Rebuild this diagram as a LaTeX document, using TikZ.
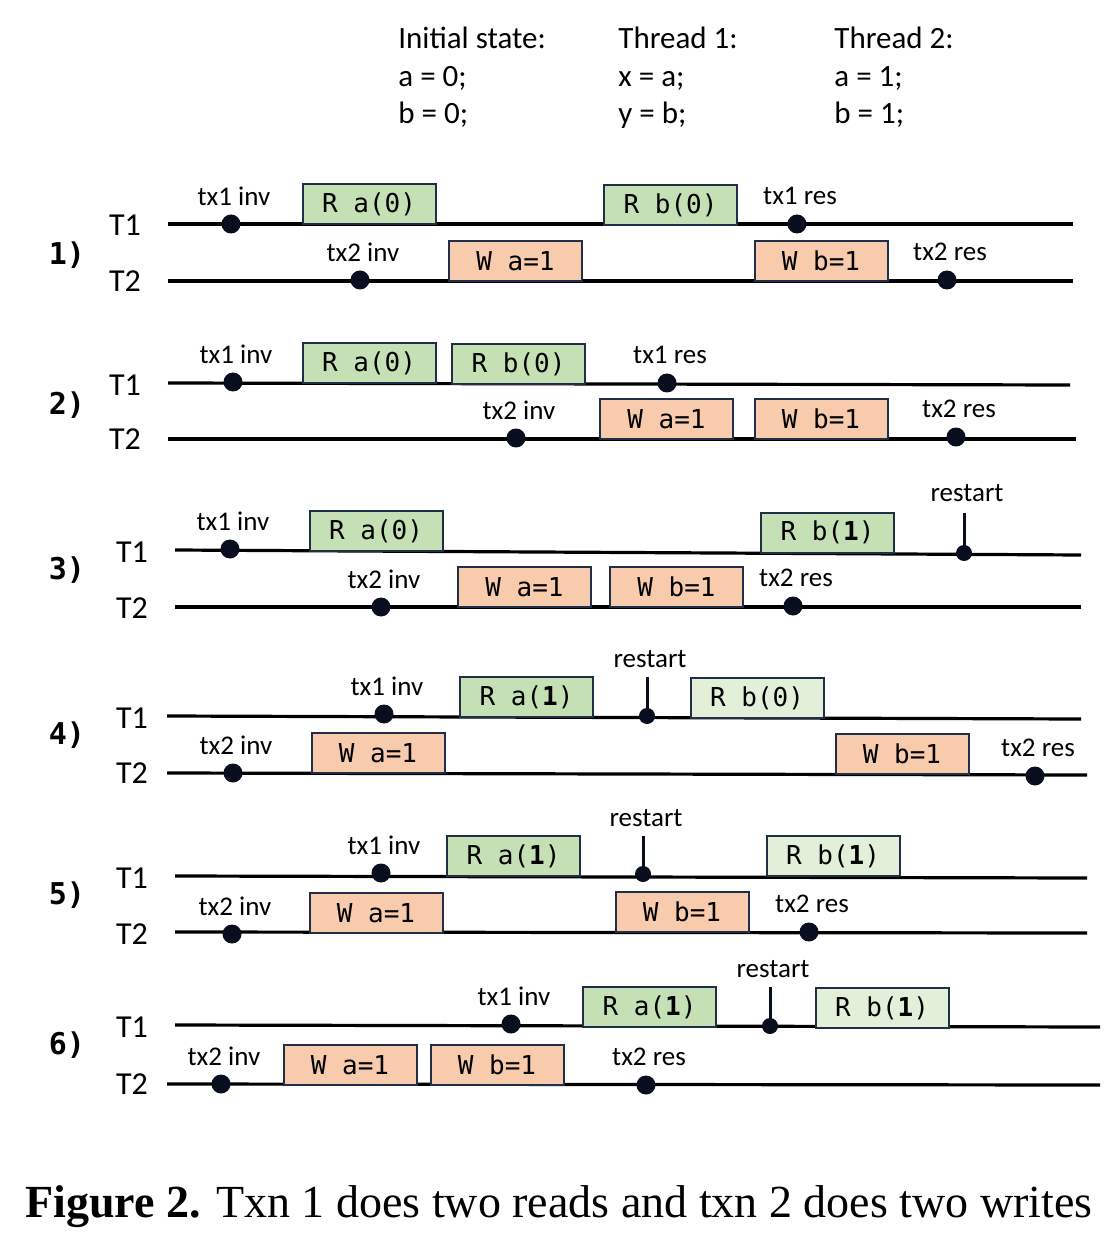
\documentclass[tikz,border=0pt]{standalone}
\usepackage{fontspec}
\usepackage{xcolor}
\usepackage{tikz}
\usetikzlibrary{positioning}
\newfontfamily\labelfont{Carlito}
\newfontfamily\opfont{DejaVu Sans Mono}
\newfontfamily\captionfont{Liberation Serif}
\definecolor{readGreen}{RGB}{197,224,180}
\definecolor{readPale}{RGB}{226,240,217}
\definecolor{writeOrange}{RGB}{248,203,173}
\definecolor{boxEdge}{RGB}{32,46,72}
\definecolor{dotNavy}{RGB}{8,14,30}

\begin{document}
\begin{tikzpicture}[x=0.5pt, y=-0.5pt, node distance=14pt]
	\tikzstyle{timeline} = [line width=1.6pt, black]
	\tikzstyle{restartLine} = [line width=1.5pt, dotNavy]
	\tikzstyle{opBox} = [rectangle, minimum width=66.5pt, minimum height=20pt, 
	inner sep=0pt, draw=boxEdge, line width=1pt, font=\opfont\fontsize{13}{15}\selectfont]
	\tikzstyle{readOp} = [opBox, fill=readGreen]
	\tikzstyle{readOpPale} = [opBox, fill=readPale]
	\tikzstyle{writeOp} = [opBox, fill=writeOrange]
	\tikzstyle{stamp} = [circle, fill=dotNavy, minimum size=9.5pt, inner sep=0pt]
	\tikzstyle{restartDot} = [circle, fill=dotNavy, minimum size=8pt, inner sep=0pt]
	\tikzstyle{stampLabel} = [font=\labelfont\fontsize{13.5}{15}\selectfont, xshift=1.5pt]
	\tikzstyle{threadName} = [font=\labelfont\fontsize{16}{18}\selectfont]
	\tikzstyle{caseNo} = [font=\opfont\bfseries\fontsize{15}{17}\selectfont]
	\tikzstyle{codeLine} = [font=\labelfont\fontsize{15.5}{18}\selectfont, anchor=base west, inner sep=0pt]
	\useasboundingbox (0,0) rectangle (1118,1240);

	% program
	\node (initHead) [codeLine] at (398,49) {Initial state:};
	\node (initA) [codeLine] at (398,87) {a = 0;};
	\node (initB) [codeLine] at (398,124) {b = 0;};
	\node (thrOneHead) [codeLine] at (618,49) {Thread 1:};
	\node (thrOneX) [codeLine] at (618,87) {x = a;};
	\node (thrOneY) [codeLine] at (618,124) {y = b;};
	\node (thrTwoHead) [codeLine] at (834,49) {Thread 2:};
	\node (thrTwoA) [codeLine] at (834,87) {a = 1;};
	\node (thrTwoB) [codeLine] at (834,124) {b = 1;};

	% timelines
	\coordinate (oneT1s) at (168,224); \coordinate (oneT1e) at (1073,224);
	\coordinate (oneT2s) at (168,281); \coordinate (oneT2e) at (1073,281);
	\coordinate (twoT1s) at (168,383); \coordinate (twoT1e) at (1070,385);
	\coordinate (twoT2s) at (168,439); \coordinate (twoT2e) at (1076,439);
	\coordinate (threeT1s) at (175,550); \coordinate (threeT1e) at (1081,555);
	\coordinate (threeT2s) at (175,607); \coordinate (threeT2e) at (1081,607);
	\coordinate (fourT1s) at (167,716); \coordinate (fourT1e) at (1081,719);
	\coordinate (fourT2s) at (167,773); \coordinate (fourT2e) at (1087,775);
	\coordinate (fiveT1s) at (175,876); \coordinate (fiveT1e) at (1087,878);
	\coordinate (fiveT2s) at (175,932); \coordinate (fiveT2e) at (1087,933);
	\coordinate (sixT1s) at (175,1025); \coordinate (sixT1e) at (1100,1027);
	\coordinate (sixT2s) at (167,1084); \coordinate (sixT2e) at (1100,1085);
	\foreach \p in {one,two,three,four,five,six}
		\foreach \t in {T1,T2}
			\draw [timeline] (\p\t s) -- (\p\t e);

	% 1)
	\node (caseOne) [caseNo] at (67,255) {1)};
	\node (oneT1) [threadName] at (125,225) {T1};
	\node (oneT2) [threadName] at (125,281) {T2};
	\node (oneInv1) [stamp] at (231,224) {};
	\node (oneInv1Lbl) [stampLabel, above of=oneInv1] {tx1 inv};
	\node (oneRa) [readOp] at (369,204) {R a(0)};
	\node (oneRb) [readOp] at (670.5,205) {R b(0)};
	\node (oneRes1) [stamp] at (797,224) {};
	\node (oneRes1Lbl) [stampLabel, above of=oneRes1] {tx1 res};
	\node (oneInv2) [stamp] at (360,280) {};
	\node (oneInv2Lbl) [stampLabel, above of=oneInv2] {tx2 inv};
	\node (oneWa) [writeOp] at (515.5,261) {W a=1};
	\node (oneWb) [writeOp] at (821,261) {W b=1};
	\node (oneRes2) [stamp] at (947,280) {};
	\node (oneRes2Lbl) [stampLabel, above of=oneRes2] {tx2 res};

	% 2)
	\node (caseTwo) [caseNo] at (67,405) {2)};
	\node (twoT1) [threadName] at (125,385) {T1};
	\node (twoT2) [threadName] at (125,439) {T2};
	\node (twoInv1) [stamp] at (233,382) {};
	\node (twoInv1Lbl) [stampLabel, above of=twoInv1] {tx1 inv};
	\node (twoRa) [readOp] at (369,363) {R a(0)};
	\node (twoRb) [readOp] at (518.5,364) {R b(0)};
	\node (twoRes1) [stamp] at (667,383) {};
	\node (twoRes1Lbl) [stampLabel, above of=twoRes1] {tx1 res};
	\node (twoInv2) [stamp] at (516,438) {};
	\node (twoInv2Lbl) [stampLabel, above of=twoInv2] {tx2 inv};
	\node (twoWa) [writeOp] at (666.5,419) {W a=1};
	\node (twoWb) [writeOp] at (821,419) {W b=1};
	\node (twoRes2) [stamp] at (956,437) {};
	\node (twoRes2Lbl) [stampLabel, above of=twoRes2] {tx2 res};

	% 3)
	\node (caseThree) [caseNo] at (67,570) {3)};
	\node (threeT1) [threadName] at (132,552) {T1};
	\node (threeT2) [threadName] at (132,608) {T2};
	\node (threeInv1) [stamp] at (230,549) {};
	\node (threeInv1Lbl) [stampLabel, above of=threeInv1] {tx1 inv};
	\node (threeRa) [readOp] at (376,531) {R a(0)};
	\node (threeRb) [readOp] at (827.5,532.5) {R b(\textbf{1})};
	\coordinate (threeRestartTop) at (964,513);
	\node (threeRestart) [restartDot] at (964,553) {};
	\draw [restartLine] (threeRestart.center) -- (threeRestartTop);
	\node (threeRestartLbl) [stampLabel, above of=threeRestartTop, node distance=10pt] {restart};
	\node (threeInv2) [stamp] at (381,607) {};
	\node (threeInv2Lbl) [stampLabel, above of=threeInv2] {tx2 inv};
	\node (threeWa) [writeOp] at (524.5,587) {W a=1};
	\node (threeWb) [writeOp] at (676.5,587) {W b=1};
	\node (threeRes2) [stamp] at (793,606) {};
	\node (threeRes2Lbl) [stampLabel, above of=threeRes2] {tx2 res};

	% 4)
	\node (caseFour) [caseNo] at (67,735) {4)};
	\node (fourT1) [threadName] at (132,718) {T1};
	\node (fourT2) [threadName] at (132,773) {T2};
	\node (fourInv1) [stamp] at (384,714) {};
	\node (fourInv1Lbl) [stampLabel, above of=fourInv1] {tx1 inv};
	\node (fourRa) [readOp] at (526.5,697) {R a(\textbf{1})};
	\coordinate (fourRestartTop) at (647,677);
	\node (fourRestart) [restartDot] at (647,716) {};
	\draw [restartLine] (fourRestart.center) -- (fourRestartTop);
	\node (fourRestartLbl) [stampLabel, above of=fourRestartTop, node distance=9pt] {restart};
	\node (fourRb) [readOpPale] at (757,698) {R b(0)};
	\node (fourInv2) [stamp] at (233,773) {};
	\node (fourInv2Lbl) [stampLabel, above of=fourInv2] {tx2 inv};
	\node (fourWa) [writeOp] at (378,753) {W a=1};
	\node (fourWb) [writeOp] at (902,753.5) {W b=1};
	\node (fourRes2) [stamp] at (1035,776) {};
	\node (fourRes2Lbl) [stampLabel, above of=fourRes2] {tx2 res};

	% 5)
	\node (caseFive) [caseNo] at (67,895) {5)};
	\node (fiveT1) [threadName] at (132,878) {T1};
	\node (fiveT2) [threadName] at (132,934) {T2};
	\node (fiveInv1) [stamp] at (381,873) {};
	\node (fiveInv1Lbl) [stampLabel, above of=fiveInv1] {tx1 inv};
	\node (fiveRa) [readOp] at (513.5,856) {R a(\textbf{1})};
	\coordinate (fiveRestartTop) at (643,836);
	\node (fiveRestart) [restartDot] at (643,874) {};
	\draw [restartLine] (fiveRestart.center) -- (fiveRestartTop);
	\node (fiveRestartLbl) [stampLabel, above of=fiveRestartTop, node distance=9pt] {restart};
	\node (fiveRb) [readOpPale] at (833,856) {R b(\textbf{1})};
	\node (fiveInv2) [stamp] at (232,934) {};
	\node (fiveInv2Lbl) [stampLabel, above of=fiveInv2] {tx2 inv};
	\node (fiveWa) [writeOp] at (376,913) {W a=1};
	\node (fiveWb) [writeOp] at (682,912) {W b=1};
	\node (fiveRes2) [stamp] at (809,932) {};
	\node (fiveRes2Lbl) [stampLabel, above of=fiveRes2] {tx2 res};

	% 6)
	\node (caseSix) [caseNo] at (67,1045) {6)};
	\node (sixT1) [threadName] at (132,1027) {T1};
	\node (sixT2) [threadName] at (132,1084) {T2};
	\node (sixInv1) [stamp] at (511,1024) {};
	\node (sixInv1Lbl) [stampLabel, above of=sixInv1] {tx1 inv};
	\node (sixRa) [readOp] at (649.5,1007) {R a(\textbf{1})};
	\coordinate (sixRestartTop) at (770,987);
	\node (sixRestart) [restartDot] at (770,1026) {};
	\draw [restartLine] (sixRestart.center) -- (sixRestartTop);
	\node (sixRestartLbl) [stampLabel, above of=sixRestartTop, node distance=9pt] {restart};
	\node (sixRb) [readOpPale] at (882,1008) {R b(\textbf{1})};
	\node (sixInv2) [stamp] at (221,1084) {};
	\node (sixInv2Lbl) [stampLabel, above of=sixInv2] {tx2 inv};
	\node (sixWa) [writeOp] at (350,1065) {W a=1};
	\node (sixWb) [writeOp] at (497,1065) {W b=1};
	\node (sixRes2) [stamp] at (646,1085) {};
	\node (sixRes2Lbl) [stampLabel, above of=sixRes2] {tx2 res};

	% caption
	\node (caption) [font=\captionfont\fontsize{23}{26}\selectfont] at (559,1207) {\textbf{Figure 2.} Txn 1 does two reads and txn 2 does two writes};
\end{tikzpicture}
\end{document}
